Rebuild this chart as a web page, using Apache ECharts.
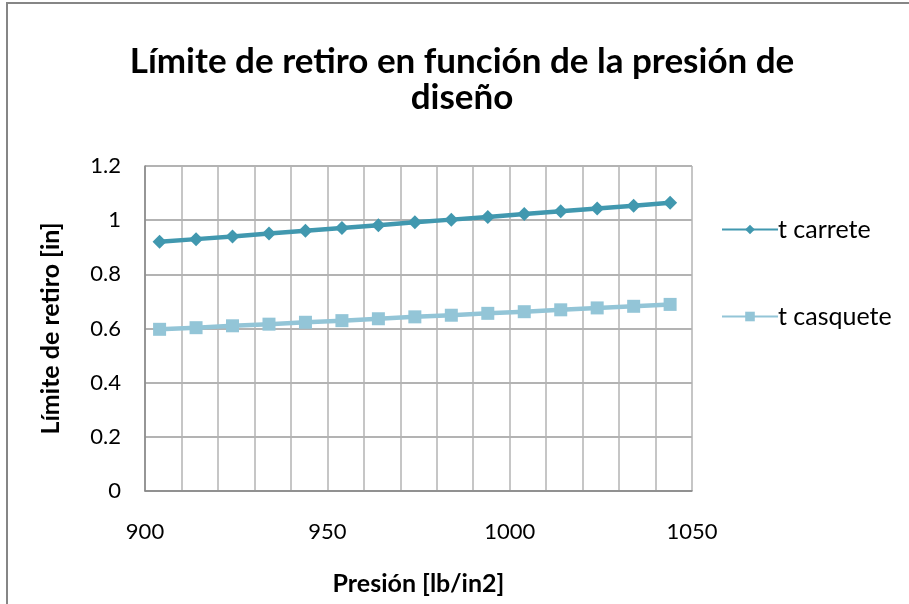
<!DOCTYPE html>
<html>
<head>
<meta charset="utf-8">
<script src="https://cdn.jsdelivr.net/npm/echarts@6/dist/echarts.min.js"></script>
<style>
  html, body { margin: 0; padding: 0; background: #ffffff; }
  #chart { width: 909px; height: 604px; }
</style>
</head>
<body>
<div id="chart"></div>
<script>
// Design pressure [lb/in2]
var presion = [904, 914, 924, 934, 944, 954, 964, 974, 984, 994, 1004, 1014, 1024, 1034, 1044];
// Retirement limit [in] for the spool and the head
var tCarrete = [0.920, 0.930, 0.940, 0.951, 0.961, 0.971, 0.981, 0.992, 1.002, 1.012, 1.023, 1.033, 1.043, 1.053, 1.064];
var tCasquete = [0.597, 0.603, 0.610, 0.616, 0.623, 0.629, 0.636, 0.643, 0.649, 0.656, 0.662, 0.669, 0.676, 0.682, 0.689];
var xTicks = [900, 950, 1000, 1050];
var yTicks = [0, 0.2, 0.4, 0.6, 0.8, 1, 1.2];

var FONT = 'Lato, "Open Sans", sans-serif';
var chart = echarts.init(document.getElementById('chart'), null, { renderer: 'canvas' });

function pairs(xs, ys) {
  return xs.map(function (x, i) { return [x, ys[i]]; });
}

chart.setOption({
  backgroundColor: '#ffffff',
  animation: false,
  graphic: [{
    type: 'rect',
    shape: { x: 7, y: 3, width: 960, height: 660 },
    style: { fill: 'none', stroke: '#868686', lineWidth: 2 },
    silent: true
  }],
  title: {
    text: 'Límite de retiro en función de la presión de\ndiseño',
    left: 457,
    textAlign: 'center',
    top: 39,
    textStyle: {
      fontFamily: FONT, fontWeight: 'bold', fontSize: 35,
      lineHeight: 36, color: '#000000', align: 'center'
    }
  },
  legend: {
    orient: 'vertical',
    left: 716,
    top: 212,
    itemGap: 62,
    itemWidth: 56,
    itemHeight: 12,
    textStyle: { fontFamily: FONT, fontSize: 25, color: '#000000', padding: [0, 0, 0, -5] },
    data: ['t carrete', 't casquete']
  },
  grid: { left: 145, right: 217, top: 166, bottom: 113, containLabel: false },
  xAxis: {
    type: 'value',
    min: 900, max: 1050, interval: 10,
    name: 'Presión [lb/in2]',
    nameLocation: 'middle',
    nameGap: 80,
    nameTextStyle: { fontFamily: FONT, fontWeight: 'bold', fontSize: 25, color: '#000000' },
    axisLine: { show: true, lineStyle: { color: '#868686', width: 1.5 } },
    axisTick: { show: false },
    axisLabel: {
      margin: 30,
      fontFamily: FONT, fontSize: 22, color: '#000000',
      formatter: function (v) { return xTicks.indexOf(v) >= 0 ? String(v) : ''; }
    },
    splitLine: { show: true, lineStyle: { color: '#b3b3b3', width: 1.5 } }
  },
  yAxis: {
    type: 'value',
    min: 0, max: 1.2, interval: 0.2,
    name: 'Límite de retiro [in]',
    nameLocation: 'middle',
    nameGap: 82,
    nameTextStyle: { fontFamily: FONT, fontWeight: 'bold', fontSize: 25, color: '#000000' },
    axisLine: { show: true, lineStyle: { color: '#868686', width: 1.5 } },
    axisTick: { show: false },
    axisLabel: {
      margin: 24,
      fontFamily: FONT, fontSize: 22, color: '#000000',
      formatter: function (v) {
        var t = yTicks.find(function (k) { return Math.abs(k - v) < 1e-9; });
        return t === undefined ? '' : String(t);
      }
    },
    splitLine: { show: true, lineStyle: { color: '#9a9a9a', width: 1.5 } }
  },
  series: [
    {
      name: 't carrete',
      type: 'line',
      data: pairs(presion, tCarrete),
      symbol: 'diamond',
      symbolSize: 14,
      lineStyle: { color: '#4198af', width: 4.5 },
      itemStyle: { color: '#4198af' }
    },
    {
      name: 't casquete',
      type: 'line',
      data: pairs(presion, tCasquete),
      symbol: 'rect',
      symbolSize: 13,
      lineStyle: { color: '#93c5d7', width: 4.5 },
      itemStyle: { color: '#93c5d7' }
    }
  ]
});
</script>
</body>
</html>
